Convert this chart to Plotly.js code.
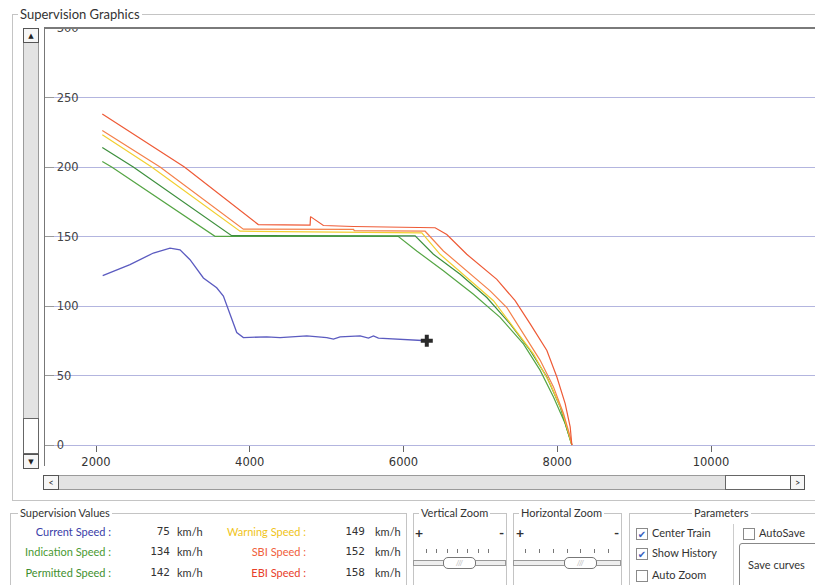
<!DOCTYPE html>
<html><head><meta charset="utf-8">
<script src="https://cdn.plot.ly/plotly-3.0.1.min.js"></script>
<style>
body{margin:0;width:815px;height:585px;overflow:hidden;background:#fff;font-family:Lato,'DejaVu Sans',sans-serif;position:relative;color:#333;}
.a{position:absolute;}
.box{position:absolute;border:1px solid #c4c4c4;}
.ttl{position:absolute;background:#fff;padding:0 2px;font-size:11px;line-height:13px;color:#333;white-space:nowrap;}
.lab{position:absolute;font-size:11px;line-height:14px;text-align:right;white-space:nowrap;}
.val{position:absolute;font-family:'DejaVu Sans Mono',monospace;font-size:11px;line-height:14px;text-align:right;color:#333;}
.unit{position:absolute;font-size:11px;line-height:14px;color:#333;}
.cb{position:absolute;width:10px;height:10px;border:1px solid #8a8a8a;background:#fff;font-size:10px;line-height:10px;text-align:center;color:#3a5fbf;}
.tk{position:absolute;width:1px;height:4px;background:#777;}
.thumb{position:absolute;height:10px;border:1px solid #777;border-radius:5px;background:#fff;font-size:8px;line-height:10px;text-align:center;color:#bbb;}
</style></head><body>
<div id="chart" class="a" style="left:0;top:0;width:815px;height:500px"></div>

<!-- Supervision Graphics frame -->
<div class="box" style="left:12px;top:14px;width:830px;height:485px;z-index:1;pointer-events:none"></div>
<!-- clip top half of 300 label -->
<div class="a" style="left:45px;top:15px;width:780px;height:12px;background:#fff;z-index:2"></div>
<div class="a" style="left:45px;top:14px;width:780px;height:1px;background:#c4c4c4;z-index:2"></div>
<div class="ttl" style="left:18px;top:7px;font-size:13px;line-height:14px;z-index:3">Supervision Graphics</div>
<!-- plot frame lines -->
<div class="a" style="left:44px;top:27px;width:780px;height:2px;background:#7a7a7a;z-index:2"></div>
<div class="a" style="left:44px;top:27px;width:1px;height:439px;background:#777;z-index:2"></div>

<!-- vertical scrollbar -->
<div class="a" style="left:23px;top:28px;width:14px;height:439px;background:#e3e3e3;border:1px solid #9a9a9a;z-index:2"></div>
<div class="a" style="left:23px;top:28px;width:14px;height:13px;background:#f6f6f6;border:1px solid #555;z-index:3;font-size:7px;line-height:13px;text-align:center;color:#222">▲</div>
<div class="a" style="left:23px;top:418px;width:14px;height:34px;background:#fff;border:1px solid #666;z-index:3"></div>
<div class="a" style="left:23px;top:454px;width:14px;height:13px;background:#f6f6f6;border:1px solid #555;z-index:3;font-size:7px;line-height:13px;text-align:center;color:#222">▼</div>

<!-- horizontal scrollbar -->
<div class="a" style="left:43px;top:475px;width:760px;height:13px;background:#e3e3e3;border:1px solid #9a9a9a;z-index:2"></div>
<div class="a" style="left:43px;top:475px;width:14px;height:13px;background:#f6f6f6;border:1px solid #555;z-index:3;font-size:9px;line-height:13px;text-align:center;color:#222">&lt;</div>
<div class="a" style="left:725px;top:475px;width:65px;height:13px;background:#fff;border:1px solid #666;z-index:3"></div>
<div class="a" style="left:790px;top:475px;width:13px;height:13px;background:#f6f6f6;border:1px solid #555;z-index:3;font-size:9px;line-height:13px;text-align:center;color:#222">&gt;</div>

<!-- Supervision Values -->
<div class="box" style="left:10px;top:513px;width:395px;height:90px"></div>
<div class="ttl" style="left:18px;top:506px">Supervision Values</div>
<div class="lab" style="left:10px;width:101px;top:525px;color:#3a40a8">Current Speed :</div>
<div class="lab" style="left:10px;width:101px;top:545px;color:#4a9a32">Indication Speed :</div>
<div class="lab" style="left:10px;width:101px;top:566px;color:#3f8f2f">Permitted Speed :</div>
<div class="val" style="left:130px;width:40px;top:525px">75</div>
<div class="val" style="left:130px;width:40px;top:545px">134</div>
<div class="val" style="left:130px;width:40px;top:566px">142</div>
<div class="unit" style="left:177px;top:525px">km/h</div>
<div class="unit" style="left:177px;top:545px">km/h</div>
<div class="unit" style="left:177px;top:566px">km/h</div>
<div class="lab" style="left:200px;width:106px;top:525px;color:#f0c419">Warning Speed :</div>
<div class="lab" style="left:200px;width:106px;top:545px;color:#f0603c">SBI Speed :</div>
<div class="lab" style="left:200px;width:106px;top:566px;color:#e8402a">EBI Speed :</div>
<div class="val" style="left:325px;width:40px;top:525px">149</div>
<div class="val" style="left:325px;width:40px;top:545px">152</div>
<div class="val" style="left:325px;width:40px;top:566px">158</div>
<div class="unit" style="left:375px;top:525px">km/h</div>
<div class="unit" style="left:375px;top:545px">km/h</div>
<div class="unit" style="left:375px;top:566px">km/h</div>

<!-- Vertical Zoom -->
<div class="box" style="left:413px;top:513px;width:92px;height:90px"></div>
<div class="ttl" style="left:419px;top:506px">Vertical Zoom</div>
<div class="a" style="left:415px;top:525px;font-size:14px;line-height:16px;font-weight:bold">+</div>
<div class="a" style="left:499px;top:525px;font-size:14px;line-height:16px;font-weight:bold">-</div>
<div class="tk" style="left:426px;top:549px"></div><div class="tk" style="left:436px;top:549px"></div><div class="tk" style="left:447px;top:549px"></div><div class="tk" style="left:457px;top:549px"></div><div class="tk" style="left:467px;top:549px"></div><div class="tk" style="left:478px;top:549px"></div><div class="tk" style="left:488px;top:549px"></div>
<div class="a" style="left:413px;top:560px;width:91px;height:4px;background:#eee;border:1px solid #999"></div>
<div class="thumb" style="left:443px;top:557px;width:31px">///</div>

<!-- Horizontal Zoom -->
<div class="box" style="left:513px;top:513px;width:107px;height:90px"></div>
<div class="ttl" style="left:519px;top:506px">Horizontal Zoom</div>
<div class="a" style="left:516px;top:525px;font-size:14px;line-height:16px;font-weight:bold">+</div>
<div class="a" style="left:614px;top:525px;font-size:14px;line-height:16px;font-weight:bold">-</div>
<div class="tk" style="left:525px;top:549px"></div><div class="tk" style="left:539px;top:549px"></div><div class="tk" style="left:553px;top:549px"></div><div class="tk" style="left:567px;top:549px"></div><div class="tk" style="left:580px;top:549px"></div><div class="tk" style="left:594px;top:549px"></div><div class="tk" style="left:608px;top:549px"></div>
<div class="a" style="left:513px;top:560px;width:106px;height:4px;background:#eee;border:1px solid #999"></div>
<div class="thumb" style="left:564px;top:557px;width:31px">///</div>

<!-- Parameters -->
<div class="box" style="left:629px;top:513px;width:200px;height:90px"></div>
<div class="ttl" style="left:692px;top:506px">Parameters</div>
<div class="cb" style="left:636px;top:528px">✔</div>
<div class="cb" style="left:636px;top:548px">✔</div>
<div class="cb" style="left:636px;top:570px"></div>
<div class="unit" style="left:652px;top:526px">Center Train</div>
<div class="unit" style="left:652px;top:546px">Show History</div>
<div class="unit" style="left:652px;top:568px">Auto Zoom</div>
<div class="a" style="left:733px;top:524px;width:1px;height:65px;background:#ccc"></div>
<div class="cb" style="left:743px;top:528px"></div>
<div class="unit" style="left:759px;top:526px">AutoSave</div>
<div class="a" style="left:739px;top:543px;width:80px;height:45px;border:1px solid #888;border-radius:3px;background:#fff"></div>
<div class="unit" style="left:748px;top:558px">Save curves</div>

<script>
// Current speed (blue)
const curX = [2087,2442,2746,2963,3093,3223,3397,3570,3657,3744,3831,3917,4221,4394,4742,5002,5089,5175,5436,5544,5609,5674,5782,6043,6303];
const curY = [121.9,129.8,138.1,141.6,140.4,133.3,120.2,113.1,107.1,94,80.9,77.3,77.8,77.3,78.5,77.3,76.2,77.8,78.5,76.9,78.5,76.9,76.6,75.5,75];
// Train position marker
const trainX = [6303];
const trainY = [75];
// EBI (top red)
const ebiX = [2082,3150,4111,4785,4791,4958,5348,6000,6411,6563,6823,7214,7452,7648,7865,7995,8103,8168,8190];
const ebiY = [238.2,200,158.6,158.2,164.3,157.9,157.2,156.7,156.3,151.4,137.2,119.2,103.8,87.1,68.0,48.9,29.8,13.1,0];
// SBI (orange-red)
const sbiX = [2082,2833,3917,5350,5360,6281,6519,6823,7127,7344,7560,7778,7951,8081,8168,8190];
const sbiY = [226.3,200,155.3,155.1,154.2,153.8,139.6,125.3,110.9,98.9,79.9,60.9,41.8,22.7,6,0];
// Warning (yellow)
const warnX = [2082,2724,3873,5000,6238,6476,6823,7170,7430,7690,7907,8060,8150,8190];
const warnY = [223.2,200,153.8,153.2,152.6,137.2,120.4,103.8,84.7,65.6,44.1,25,8,0];
// Permitted (green)
const permX = [2082,2485,3765,6151,6389,6737,7084,7387,7648,7865,8038,8150,8190];
const permY = [214.1,200,150.6,150.4,137.2,122.8,106.1,87.1,68,48.9,27.4,8,0];
// Indication (green)
const indX = [2082,2204,3548,5934,6172,6519,6910,7257,7560,7778,7951,8103,8190];
const indY = [204,200,150.1,150,139.6,125.3,108.5,91.8,72.7,53.7,34.6,15.5,0];
// Axis ticks
const xTicks = [2000,4000,6000,8000,10000];
const yTicks = [0,50,100,150,200,250,300];

function ln(x,y,color,w){return {x:x,y:y,type:'scatter',mode:'lines',line:{color:color,width:w||1.2},hoverinfo:'skip',showlegend:false};}
const data = [
  ln(indX,indY,'#55a544'),
  ln(permX,permY,'#3d8f3d'),
  ln(warnX,warnY,'#f2cf30'),
  ln(sbiX,sbiY,'#f4804a'),
  ln(ebiX,ebiY,'#ee5a36'),
  ln(curX,curY,'#5b5bc0',1.3),
  {x:trainX,y:trainY,type:'scatter',mode:'markers',marker:{symbol:'cross',size:10,color:'#2a2a2a'},hoverinfo:'skip',showlegend:false}
];
// plot area: top 17, bottom 465 (448 px); 0 at y=445, 300 at y=28
const pxPerUnit = 417/300;
const layout = {
  width:815,height:500,
  margin:{l:44,r:0,t:17,b:35,pad:0},
  paper_bgcolor:'rgba(0,0,0,0)',plot_bgcolor:'#fff',
  showlegend:false,
  font:{family:'DejaVu Sans, sans-serif',size:11,color:'#444'},
  xaxis:{range:[1323.6,11352.8],tickvals:xTicks,ticktext:xTicks.map(String),showgrid:false,zeroline:false,showline:false,
         anchor:'free',position:20/448,
         ticks:'outside',ticklen:6,tickcolor:'#666',tickwidth:1,tickfont:{family:'DejaVu Sans, sans-serif',size:11.5,color:'#333'},fixedrange:true},
  yaxis:{range:[-20/pxPerUnit,300+11/pxPerUnit],tickvals:yTicks,ticktext:yTicks.map(String),showgrid:true,gridcolor:'#b3b5df',gridwidth:1,
         zeroline:true,zerolinecolor:'#b3b5df',zerolinewidth:1,showline:false,
         ticks:'inside',ticklen:10,tickcolor:'#999',ticklabelposition:'inside',ticklabelstandoff:2,
         tickfont:{family:'DejaVu Sans, sans-serif',size:11.5,color:'#444'},fixedrange:true}
};
Plotly.newPlot('chart',data,layout,{displayModeBar:false,staticPlot:true});
</script>
</body></html>
